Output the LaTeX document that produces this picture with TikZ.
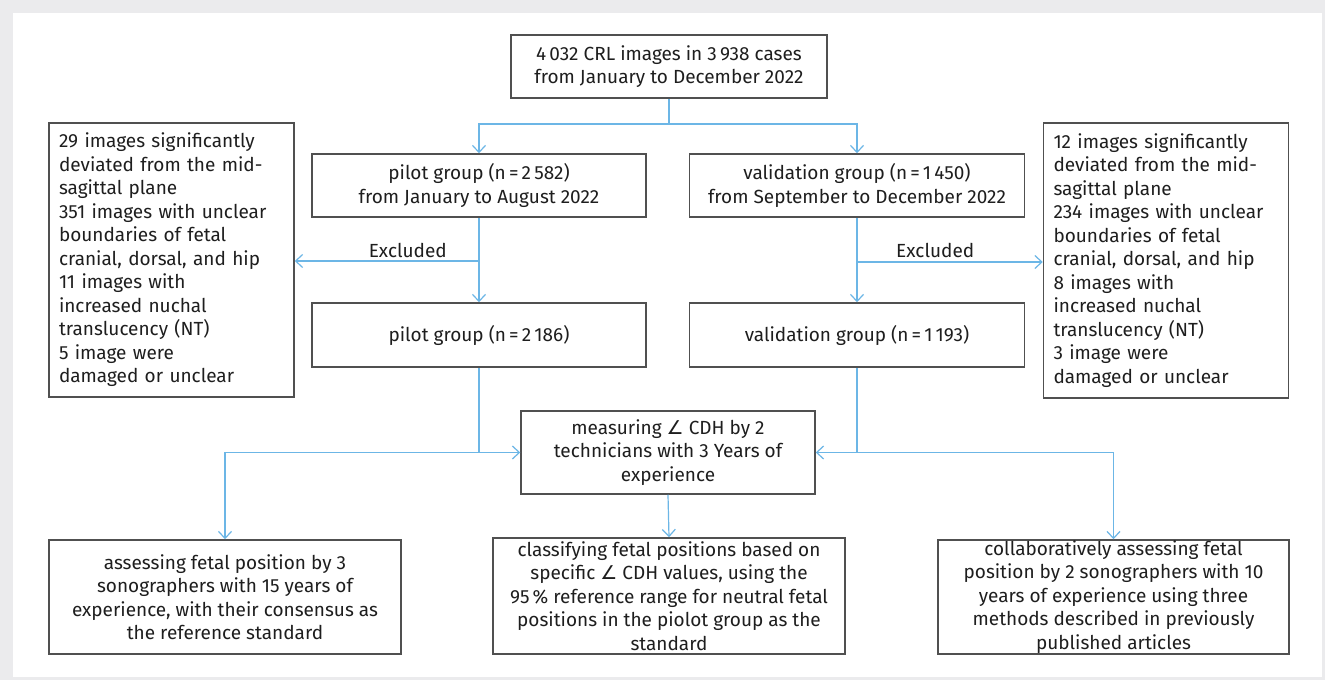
\documentclass[tikz,border=0pt]{standalone}
\usepackage{fontspec}
\setmainfont{Fira Sans}
\newfontfamily\symfont{DejaVu Sans}
\usetikzlibrary{arrows.meta}
\definecolor{flowblue}{RGB}{108,182,230}
\definecolor{boxgrey}{RGB}{80,80,80}
\definecolor{pagegrey}{RGB}{235,235,237}
\definecolor{inktext}{RGB}{30,30,30}
\newcommand{\boxfont}{\fontsize{19}{23.5}\selectfont}
\newcommand{\angsym}{{\symfont ∠}}
\begin{document}
\begin{tikzpicture}[x=1pt,y=-1pt,
  box/.style={draw=boxgrey, line width=1.5pt, fill=white, inner sep=0pt, align=center, font=\boxfont, text=inktext},
  exbox/.style={box, align=left, text width=225pt, inner xsep=10pt},
  flow/.style={draw=flowblue, line width=1.2pt, -{Straight Barb[length=7pt,width=13pt]}},
  flowline/.style={draw=flowblue, line width=1.2pt},
  lbl/.style={font=\boxfont, text=inktext, inner sep=0pt}]
\fill[pagegrey] (0,0) rectangle (1325,680);
\fill[white] (13,13) rectangle (1322,677);
\useasboundingbox (0,0) rectangle (1325,680);

\node[box, minimum width=316pt, minimum height=63pt] (top) at (669,66.5)
  {4\,032 CRL images in 3\,938 cases\\from January to December 2022};
\node[box, minimum width=334pt, minimum height=63pt] (pilot) at (479,185.5)
  {pilot group (n\,=\,2\,582)\\from January to August 2022};
\node[box, minimum width=335pt, minimum height=63pt] (valid) at (857,185.5)
  {validation group (n\,=\,1\,450)\\from September to December 2022};
\node[exbox, minimum height=274pt] (exclL) at (171.5,260)
  {29 images significantly\\deviated from the mid-\\sagittal plane\\351 images with unclear\\boundaries of fetal\\cranial, dorsal, and hip\\11 images with\\increased nuchal\\translucency (NT)\\5 image were\\damaged or unclear};
\node[exbox, minimum height=275pt] (exclR) at (1166,260.5)
  {12 images significantly\\deviated from the mid-\\sagittal plane\\234 images with unclear\\boundaries of fetal\\cranial, dorsal, and hip\\8 images with\\increased nuchal\\translucency (NT)\\3 image were\\damaged or unclear};
\node[box, minimum width=334pt, minimum height=64pt] (pilot2) at (479,335)
  {pilot group (n\,=\,2\,186)};
\node[box, minimum width=335pt, minimum height=64pt] (valid2) at (857,335)
  {validation group (n\,=\,1\,193)};
\node[box, minimum width=294pt, minimum height=83pt] (measure) at (668,452.5)
  {measuring \angsym\ CDH by 2\\technicians with 3 Years of\\experience};
\node[box, minimum width=352pt, minimum height=114pt] (botL) at (225,597)
  {assessing fetal position by 3\\sonographers with 15 years of\\experience, with their consensus as\\the reference standard};
\node[box, minimum width=352pt, minimum height=116pt] (botM) at (669,596)
  {classifying fetal positions based on\\specific \angsym\ CDH values, using the\\95\,\% reference range for neutral fetal\\positions in the piolot group as the\\standard};
\node[box, minimum width=351pt, minimum height=114pt] (botR) at (1113.5,597)
  {collaboratively assessing fetal\\position by 2 sonographers with 10\\years of experience using three\\methods described in previously\\published articles};

\coordinate (split) at (669,124);
\draw[flowline] (top.south) -- (split);
\draw[flow] (split) -| (pilot.north);
\draw[flow] (split) -| (valid.north);
\draw[flow] (pilot.south) -- (pilot2.north);
\draw[flow] (valid.south) -- (valid2.north);
\coordinate (exL) at (479,261);
\coordinate (exR) at (857,262);
\draw[flow] (exL) -- (exL -| exclL.east);
\draw[flow] (exR) -- (exR -| exclR.west);
\node[lbl, anchor=base east] (exLlbl) at (447,257) {Excluded};
\node[lbl, anchor=base west] (exRlbl) at (896,257) {Excluded};
\draw[flow] (pilot2.south) |- (measure.west);
\draw[flow] (pilot2.south |- measure.west) -| (botL.north);
\draw[flow] (valid2.south) |- (measure.east);
\draw[flow] (valid2.south |- measure.east) -| (botR.north);
\draw[flow] (measure.south) -- (botM.north);
\end{tikzpicture}
\end{document}
